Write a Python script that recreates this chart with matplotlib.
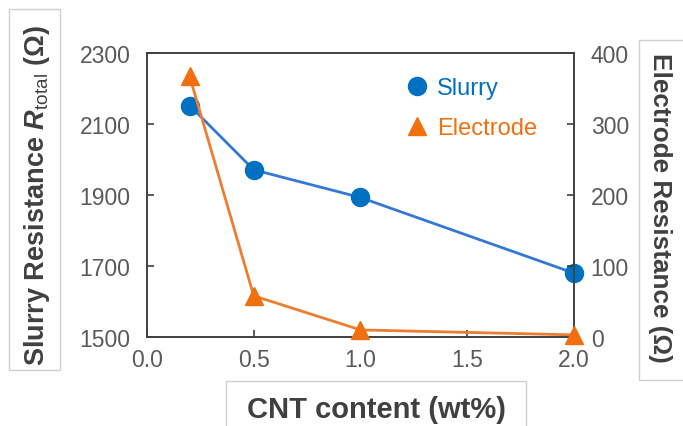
import matplotlib
matplotlib.use("Agg")
import matplotlib.pyplot as plt
from matplotlib.lines import Line2D
from matplotlib.patches import Rectangle

# data
cnt = [0.2, 0.5, 1.0, 2.0]
slurry = [2152, 1971, 1893, 1680]
electrode = [367, 58, 10, 3]

x_ticks = [0.0, 0.5, 1.0, 1.5, 2.0]
left_ticks = [1500, 1700, 1900, 2100, 2300]
right_ticks = [0, 100, 200, 300, 400]

plt.rcParams["font.family"] = ["Liberation Sans", "DejaVu Sans"]
plt.rcParams["mathtext.fontset"] = "custom"
plt.rcParams["mathtext.rm"] = "Liberation Sans"
plt.rcParams["mathtext.it"] = "Liberation Sans:italic"
plt.rcParams["mathtext.bf"] = "Liberation Sans:bold"
plt.rcParams["mathtext.bfit"] = "Liberation Sans:bold:italic"

blue_m = "#0070C0"
blue_l = "#3478D4"
orange_m = "#F07010"
orange_l = "#ED7D31"
spine_c = "#404040"
tick_c = "#595959"
label_c = "#404040"

fig = plt.figure(figsize=(6.83, 4.27), dpi=100)
ax = fig.add_axes([0.2152, 0.2084, 0.6252, 0.6651])
ax2 = ax.twinx()

ax.plot(cnt, slurry, color=blue_l, lw=2.0, marker="o", ms=13,
        mfc=blue_m, mec=blue_m, zorder=3, clip_on=False)
ax2.plot(cnt, electrode, color=orange_l, lw=2.0, marker="^", ms=12.5,
         mfc=orange_m, mec=orange_m, zorder=3, clip_on=False)

ax.set_xlim(0.0, 2.0)
ax.set_ylim(1500, 2300)
ax2.set_ylim(0, 400)
ax.set_xticks(x_ticks)
ax.set_xticklabels([f"{v:.1f}" for v in x_ticks])
ax.set_yticks(left_ticks)
ax2.set_yticks(right_ticks)

for a in (ax, ax2):
    for s in a.spines.values():
        s.set_color(spine_c)
        s.set_linewidth(1.2)
ax.tick_params(axis="both", direction="in", length=5, width=1.2,
               color=spine_c, labelcolor=tick_c, labelsize=16.5)
ax.tick_params(axis="y", pad=12)
ax.tick_params(axis="x", pad=8)
ax2.tick_params(axis="y", direction="in", length=5, width=1.2,
                color=spine_c, labelcolor=tick_c, labelsize=16.5, pad=12)

# legend (markers only)
handles = [
    Line2D([], [], ls="none", marker="o", ms=13, mfc=blue_m, mec=blue_m),
    Line2D([], [], ls="none", marker="^", ms=12.5, mfc=orange_m, mec=orange_m),
]
leg = ax.legend(handles, ["Slurry", "Electrode"], loc="upper left",
                bbox_to_anchor=(0.56, 0.99), frameon=False, fontsize=17,
                handlelength=0.8, handletextpad=0.45, labelspacing=0.75)
for t, c in zip(leg.get_texts(), [blue_m, orange_m]):
    t.set_color(c)

# boxed axis titles
for x0, y0, w, h in [(0.0132, 0.131, 0.0747, 0.845),
                     (0.9356, 0.1077, 0.08, 0.796),
                     (0.3309, -0.01, 0.439, 0.115)]:
    fig.patches.append(Rectangle((x0, y0), w, h, transform=fig.transFigure,
                                 fill=False, ec="#D0D0D0", lw=1.0))

fig.text(0.054, 0.543, r"Slurry Resistance $\mathbfit{R}_{\mathrm{total}}$ (Ω)",
         rotation=90, ha="center", va="center", fontsize=19.5,
         fontweight="bold", color=label_c)
fig.text(0.967, 0.513, "Electrode Resistance (Ω)", rotation=270,
         ha="center", va="center", fontsize=18.8, fontweight="bold",
         color=label_c)
fig.text(0.551, 0.04, "CNT content (wt%)", ha="center", va="center",
         fontsize=21, fontweight="bold", color=label_c)

fig.savefig("out.png", dpi=100)
plt.close(fig)
